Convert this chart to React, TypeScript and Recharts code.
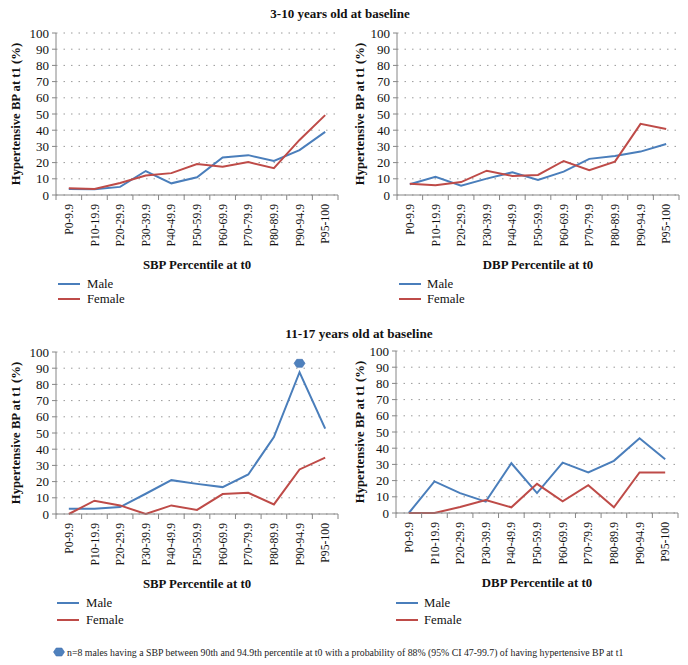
import React from 'react';
import { LineChart, Line, XAxis, YAxis, CartesianGrid, ReferenceDot, Label } from 'recharts';

// ---------- data ----------
const categories = ['P0-9.9', 'P10-19.9', 'P20-29.9', 'P30-39.9', 'P40-49.9', 'P50-59.9', 'P60-69.9', 'P70-79.9', 'P80-89.9', 'P90-94.9', 'P95-100'];
const yTicks = [0, 10, 20, 30, 40, 50, 60, 70, 80, 90, 100];
const seriesNames = ['Male', 'Female'];

// 3-10 years old at baseline
const sbpYoungMale = [3.7, 3.5, 5.0, 14.8, 7.2, 10.9, 23.2, 24.6, 21.0, 27.7, 39.0];
const sbpYoungFemale = [4.1, 3.7, 7.4, 12.0, 13.5, 19.1, 17.5, 20.3, 16.6, 34.0, 49.3];
const dbpYoungMale = [6.6, 11.3, 5.8, 10.1, 14.0, 9.3, 14.4, 22.3, 24.1, 26.8, 31.5];
const dbpYoungFemale = [7.0, 6.0, 8.0, 15.0, 11.8, 12.4, 21.0, 15.3, 20.6, 43.9, 40.8];

// 11-17 years old at baseline
const sbpOldMale = [3.3, 3.3, 4.3, 12.5, 20.9, 18.6, 16.6, 24.4, 47.5, 87.5, 52.7];
const sbpOldFemale = [0, 8.2, 5.3, 0, 5.3, 2.5, 12.3, 13.1, 5.9, 27.5, 34.8];
const dbpOldMale = [0, 19.5, 12.3, 7.0, 30.7, 12.3, 31.1, 25.0, 32.2, 46.1, 33.2];
const dbpOldFemale = [0, 0, 3.7, 8.0, 3.5, 18.0, 7.2, 17.2, 3.5, 25.0, 25.0];

// highlighted marker (n=8 males, P90-94.9)
const markerCategory = 'P90-94.9';
const markerValue = 93;

const titles = ['3-10 years old at baseline', '11-17 years old at baseline'];
const yTitle = 'Hypertensive BP at t1 (%)';
const xTitles = ['SBP Percentile at t0', 'DBP Percentile at t0'];
const footnote = 'n=8 males having a SBP between 90th and 94.9th percentile at t0 with a probability of 88% (95% CI 47-99.7) of having hypertensive BP at t1';

// ---------- styles ----------
const FONT = "'Liberation Serif'";
const BLUE = '#4A7EBB';
const RED = '#BE4B48';
const AXIS = '#868686';
const GRID = '#9a9a9a';

const buildRows = (male: number[], female: number[]) =>
  categories.map((c, i) => ({ cat: c, male: male[i], female: female[i] }));

const makeXTick = (fallbackHalf: number) => (props: any) => {
  const { x, y, payload, index } = props;
  const half = typeof payload?.offset === 'number' && payload.offset > 0 ? payload.offset : fallbackHalf;
  const last = index === categories.length - 1;
  return (
    <g>
      <line x1={x - half} x2={x - half} y1={y} y2={y + 5} stroke={AXIS} />
      {last && <line x1={x + half} x2={x + half} y1={y} y2={y + 5} stroke={AXIS} />}
      <text
        x={x - 9}
        y={y}
        transform={`rotate(-90 ${x} ${y})`}
        textAnchor="end"
        dy="0.35em"
        style={{ fontFamily: FONT, fontSize: 11.7 }}
        fill="#111"
      >
        {payload.value}
      </text>
    </g>
  );
};

const Hexagon = (props: any) => {
  const { cx, cy } = props;
  if (cx == null || cy == null) return null;
  const pts = [
    [cx - 5.5, cy],
    [cx - 2.8, cy - 4],
    [cx + 2.8, cy - 4],
    [cx + 5.5, cy],
    [cx + 2.8, cy + 4],
    [cx - 2.8, cy + 4],
  ]
    .map((p) => p.join(','))
    .join(' ');
  return <polygon points={pts} fill="#4F81BD" stroke="#3f6fae" strokeWidth={0.6} />;
};

type PanelProps = {
  left: number;
  top: number;
  yAxisWidth: number;
  marginRight: number;
  rows: any[];
  xTitle: string;
  marker?: boolean;
};

const CHART_W = 344;
const CHART_H = 330;
const M_TOP = 33;
const M_BOTTOM = 55;
const X_H = 80;

const YTick = (props: any) => {
  const { x, y, payload } = props;
  return (
    <text x={x} y={y} textAnchor="end" dominantBaseline="central" style={{ fontFamily: FONT, fontSize: 13 }} fill="#111">
      {payload.value}
    </text>
  );
};

const Panel = ({ left, top, yAxisWidth, marginRight, rows, xTitle, marker }: PanelProps) => {
  const plotW = CHART_W - yAxisWidth - marginRight;
  const XTick = makeXTick(plotW / categories.length / 2);
  return (
    <div style={{ position: 'absolute', left, top, width: CHART_W, height: CHART_H }}>
      <LineChart
        width={CHART_W}
        height={CHART_H}
        data={rows}
        margin={{ top: M_TOP, right: marginRight, bottom: M_BOTTOM, left: 0 }}
      >
        <CartesianGrid vertical={false} stroke={GRID} strokeDasharray="1.5 6" />
        <XAxis
          dataKey="cat"
          scale="band"
          interval={0}
          height={X_H}
          tickSize={0}
          tickMargin={0}
          tick={XTick}
          axisLine={{ stroke: AXIS }}
          tickLine={false}
        >
          <Label
            content={(p: any) => {
              const vb = p.viewBox;
              return (
                <text
                  x={vb.x + vb.width / 2}
                  y={vb.y + 70}
                  textAnchor="middle"
                  dominantBaseline="central"
                  style={{ fontFamily: FONT, fontSize: 12.8, fontWeight: 'bold' }}
                  fill="#111"
                >
                  {xTitle}
                </text>
              );
            }}
          />
        </XAxis>
        <YAxis
          width={yAxisWidth}
          domain={[0, 100]}
          ticks={yTicks}
          interval={0}
          axisLine={{ stroke: AXIS }}
          tickLine={{ stroke: AXIS }}
          tickSize={4}
          tickMargin={3}
          tick={YTick}
        >
          <Label
            content={(p: any) => {
              const vb = p.viewBox;
              const cx = 16;
              const cy = vb.y + vb.height / 2;
              return (
                <text
                  x={cx}
                  y={cy}
                  transform={`rotate(-90 ${cx} ${cy})`}
                  textAnchor="middle"
                  dominantBaseline="central"
                  style={{ fontFamily: FONT, fontSize: 12.7, fontWeight: 'bold' }}
                  fill="#111"
                >
                  {yTitle}
                </text>
              );
            }}
          />
        </YAxis>
        <Line type="linear" dataKey="male" name={seriesNames[0]} stroke={BLUE} strokeWidth={2} dot={false} activeDot={false} isAnimationActive={false} />
        <Line type="linear" dataKey="female" name={seriesNames[1]} stroke={RED} strokeWidth={2} dot={false} activeDot={false} isAnimationActive={false} />
        {marker && (
          <ReferenceDot x={markerCategory} y={markerValue} r={5} shape={Hexagon} ifOverflow="visible" />
        )}
      </LineChart>
    </div>
  );
};

const LegendBlock = ({ x, y1, y2, textX }: { x: number; y1: number; y2: number; textX: number }) => (
  <g>
    <line x1={x} x2={x + 22} y1={y1} y2={y1} stroke={BLUE} strokeWidth={2} />
    <text x={textX} y={y1} dominantBaseline="central" style={{ fontFamily: FONT, fontSize: 12.8 }} fill="#111">
      {seriesNames[0]}
    </text>
    <line x1={x} x2={x + 22} y1={y2} y2={y2} stroke={RED} strokeWidth={2} />
    <text x={textX} y={y2} dominantBaseline="central" style={{ fontFamily: FONT, fontSize: 12.8 }} fill="#111">
      {seriesNames[1]}
    </text>
  </g>
);

export default function App() {
  return (
    <div style={{ position: 'absolute', left: 0, top: 0, width: 688, height: 665, background: '#fff', overflow: 'hidden' }}>
      <Panel left={0} top={0} yAxisWidth={56} marginRight={6} rows={buildRows(sbpYoungMale, sbpYoungFemale)} xTitle={xTitles[0]} />
      <Panel left={344} top={0} yAxisWidth={53} marginRight={9} rows={buildRows(dbpYoungMale, dbpYoungFemale)} xTitle={xTitles[1]} />
      <Panel left={0} top={319} yAxisWidth={56} marginRight={6} rows={buildRows(sbpOldMale, sbpOldFemale)} xTitle={xTitles[0]} marker />
      <Panel left={344} top={318} yAxisWidth={52} marginRight={10} rows={buildRows(dbpOldMale, dbpOldFemale)} xTitle={xTitles[1]} />
      <svg width={688} height={665} style={{ position: 'absolute', left: 0, top: 0, pointerEvents: 'none' }}>
        <text x={340} y={13} textAnchor="middle" dominantBaseline="central" style={{ fontFamily: FONT, fontSize: 13, fontWeight: 'bold' }} fill="#111">
          {titles[0]}
        </text>
        <text x={359} y={333} textAnchor="middle" dominantBaseline="central" style={{ fontFamily: FONT, fontSize: 13.2, fontWeight: 'bold' }} fill="#111">
          {titles[1]}
        </text>
        <LegendBlock x={58} y1={284} y2={299} textX={87} />
        <LegendBlock x={399} y1={284} y2={299} textX={427} />
        <LegendBlock x={57} y1={603} y2={620} textX={86} />
        <LegendBlock x={396} y1={603} y2={620} textX={424} />
        <Hexagon cx={59} cy={652} />
        <text x={67} y={652} dominantBaseline="central" style={{ fontFamily: FONT, fontSize: 9.8 }} fill="#222">
          {footnote}
        </text>
      </svg>
    </div>
  );
}
